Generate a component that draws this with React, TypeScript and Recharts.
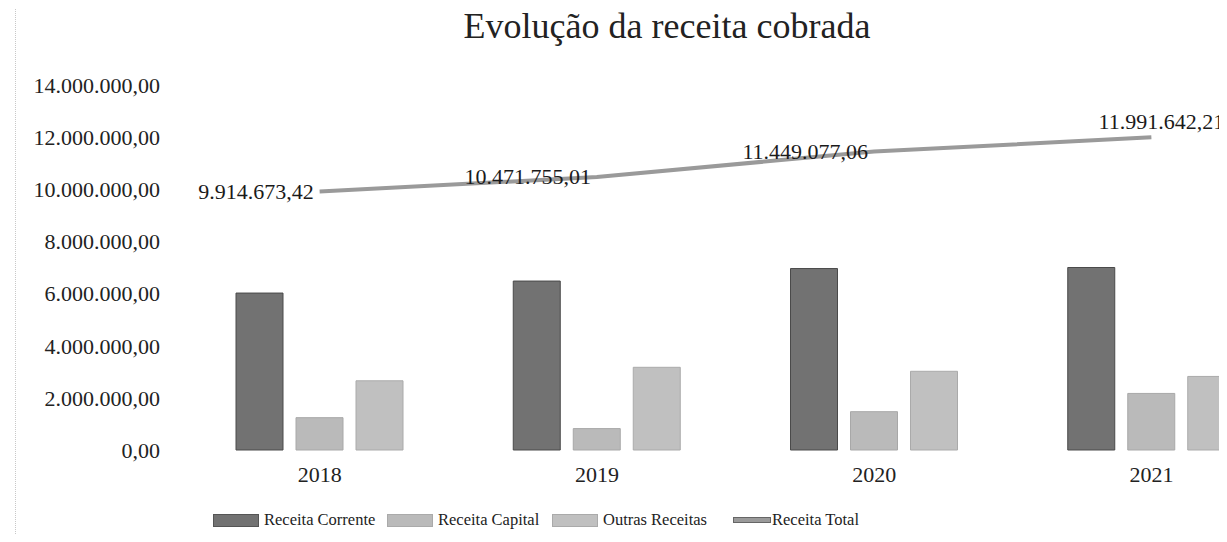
import React from 'react';
import { ComposedChart, Bar, Line, XAxis, YAxis, Legend, LabelList } from 'recharts';

const years = ['2018', '2019', '2020', '2021'];
const receitaCorrente = [6020000, 6480000, 6960000, 7000000];
const receitaCapital = [1240000, 820000, 1470000, 2170000];
const outrasReceitas = [2654673.42, 3171755.01, 3019077.06, 2821642.21];
const receitaTotal = [9914673.42, 10471755.01, 11449077.06, 11991642.21];
const yTicks = [0, 2000000, 4000000, 6000000, 8000000, 10000000, 12000000, 14000000];
const seriesNames = ['Receita Corrente', 'Receita Capital', 'Outras Receitas', 'Receita Total'];
const seriesColors = ['#727272', '#bababa', '#c0c0c0', '#9a9a9a'];

const data = years.map((y, i) => ({
  year: y,
  corrente: receitaCorrente[i],
  capital: receitaCapital[i],
  outras: outrasReceitas[i],
  total: receitaTotal[i],
}));

const FONT = '"Liberation Serif", "DejaVu Serif", serif';
const legendItemWidths = [174, 165, 181, 140];

const fmt = (v: number) => {
  const [i, d] = v.toFixed(2).split('.');
  return i.replace(/\B(?=(\d{3})+(?!\d))/g, '.') + ',' + d;
};

const LineLabel = (props: any) => {
  const { x, y, value, index } = props;
  if (index === years.length - 1) {
    return (
      <text x={x + 10} y={y - 8} textAnchor="middle" fontSize={22} fontFamily={FONT} fill="#1a1a1a">
        {fmt(value)}
      </text>
    );
  }
  return (
    <text x={x - 6} y={y + 7} textAnchor="end" fontSize={22} fontFamily={FONT} fill="#1a1a1a">
      {fmt(value)}
    </text>
  );
};

const LegendContent = () => (
  <div style={{ display: 'flex', alignItems: 'center', fontFamily: FONT, fontSize: 16.5, color: '#222' }}>
    {seriesNames.map((n, i) => (
      <div key={n} style={{ display: 'flex', alignItems: 'center', width: legendItemWidths[i] }}>
        {i < 3 ? (
          <span style={{ display: 'inline-block', width: 44, height: 11, background: seriesColors[i], border: i === 0 ? '1px solid #555' : '1px solid #aaa', marginRight: 5 }} />
        ) : (
          <span style={{ display: 'inline-block', width: 36, height: 4, background: seriesColors[i], border: '1px solid #666', marginRight: 1 }} />
        )}
        <span style={{ whiteSpace: 'nowrap' }}>{n}</span>
      </div>
    ))}
  </div>
);

export default function App() {
  return (
    <div style={{ position: 'relative', width: 1227, height: 542, margin: -8, overflow: 'hidden', background: '#fff' }}>
      <div style={{ position: 'absolute', left: 15, top: 0, height: 542, borderLeft: '1px dotted #c8c8c8' }} />
      <div style={{ position: 'absolute', left: 0, top: 0, width: 1334, height: 542 }}>
        <div style={{ position: 'absolute', left: 0, top: 5, width: 1334, textAlign: 'center', fontFamily: FONT, fontSize: 36, color: '#222' }}>
          Evolução da receita cobrada
        </div>
        <ComposedChart width={1334} height={542} data={data} margin={{ top: 85, right: 44, bottom: 52, left: 0 }} barSize={47} barGap={13}>
          <XAxis dataKey="year" axisLine={false} tickLine={false} tickMargin={10} height={40}
            tick={{ fontSize: 22, fontFamily: FONT, fill: '#222' }} />
          <YAxis domain={[0, 14000000]} ticks={yTicks} axisLine={false} tickLine={false} width={181} tickMargin={15}
            tickFormatter={fmt} tick={{ fontSize: 22, fontFamily: FONT, fill: '#222' }} />
          <Legend layout="horizontal" verticalAlign="middle" align="center" content={<LegendContent />}
            wrapperStyle={{ top: 510, left: 213, width: 'auto' }} />
          <Bar dataKey="corrente" name={seriesNames[0]} fill={seriesColors[0]} stroke="#4a4a4a" strokeWidth={1} isAnimationActive={false} />
          <Bar dataKey="capital" name={seriesNames[1]} fill={seriesColors[1]} stroke="#a8a8a8" strokeWidth={1} isAnimationActive={false} />
          <Bar dataKey="outras" name={seriesNames[2]} fill={seriesColors[2]} stroke="#aaaaaa" strokeWidth={1} isAnimationActive={false} />
          <Line dataKey="total" name={seriesNames[3]} stroke={seriesColors[3]} strokeWidth={4} dot={false} isAnimationActive={false}>
            <LabelList dataKey="total" content={<LineLabel />} />
          </Line>
        </ComposedChart>
      </div>
    </div>
  );
}
